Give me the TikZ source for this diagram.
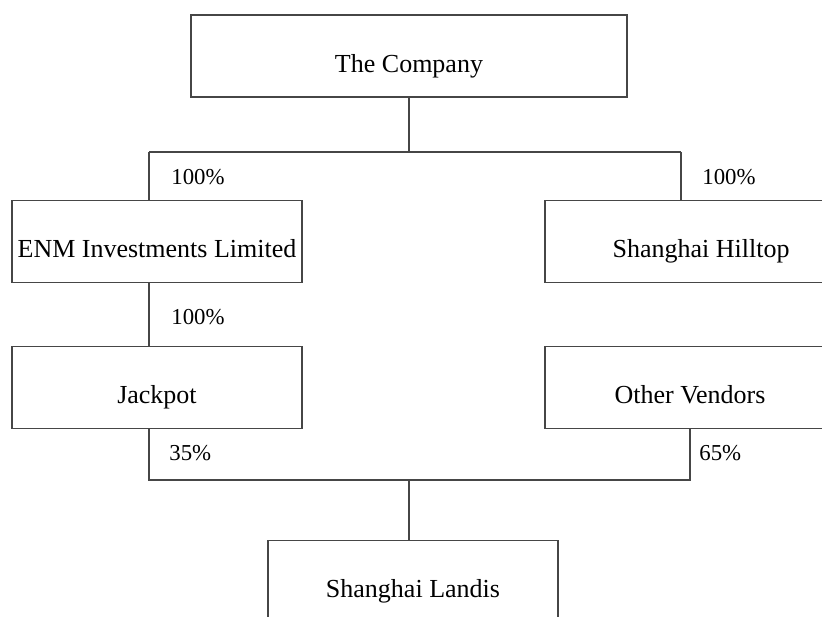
\documentclass[tikz,border=0pt]{standalone}
\usepackage{fontspec}
\setmainfont{Liberation Serif}
\usetikzlibrary{positioning, calc}
\definecolor{linegray}{RGB}{70, 70, 70}

\begin{document}
\begin{tikzpicture}[
    x=0.5pt, y=-0.5pt,
    box/.style={rectangle, draw=linegray, line width=0.65pt, minimum height=41pt, inner sep=0pt, text height=16pt, text depth=0pt, align=center, font=\fontsize{13}{16}\selectfont},
    pct/.style={anchor=west, inner sep=0pt, font=\fontsize{11.4}{14}\selectfont},
    conn/.style={draw=linegray, line width=0.65pt}
]
\useasboundingbox (0,0) rectangle (822,616);

% Holding company
\node[box, minimum width=218pt] (company) at (409,56) {The Company};

% First level
\node[box, minimum width=145pt] (enm) at (157,241.7) {ENM Investments Limited};
\node[box, minimum width=156pt] (hilltop) at (701,241.7) {Shanghai Hilltop};

% Second level
\node[box, minimum width=145pt] (jackpot) at (157,387.7) {Jackpot};
\node[box, minimum width=145pt] (vendors) at (690,387.7) {Other Vendors};

% Joint venture
\node[box, minimum width=145pt] (landis) at (413,581.7) {Shanghai Landis};

% Bars
\coordinate (tl) at (149,152);
\coordinate (tr) at (681,152);
\coordinate (bl) at (149,480);
\coordinate (br) at (690,480);
\coordinate (bm) at (409,480);

% Connectors
\draw[conn] (company.south) -- (company.south |- tl);
\draw[conn] (tl) -- (tr);
\draw[conn] (tl) -- (tl |- enm.north);
\draw[conn] (tr) -- (tr |- hilltop.north);
\draw[conn] (tl |- enm.south) -- (tl |- jackpot.north);
\draw[conn] (bl |- jackpot.south) -- (bl) -- (br) -- (br |- vendors.south);
\draw[conn] (bm) -- (bm |- landis.north);

% Shares
\node[pct] (p1) at (171,177) {100\%};
\node[pct] (p2) at (702,177) {100\%};
\node[pct] (p3) at (171,317) {100\%};
\node[pct] (p4) at (169,453) {35\%};
\node[pct] (p5) at (699,453) {65\%};

\end{tikzpicture}
\end{document}
